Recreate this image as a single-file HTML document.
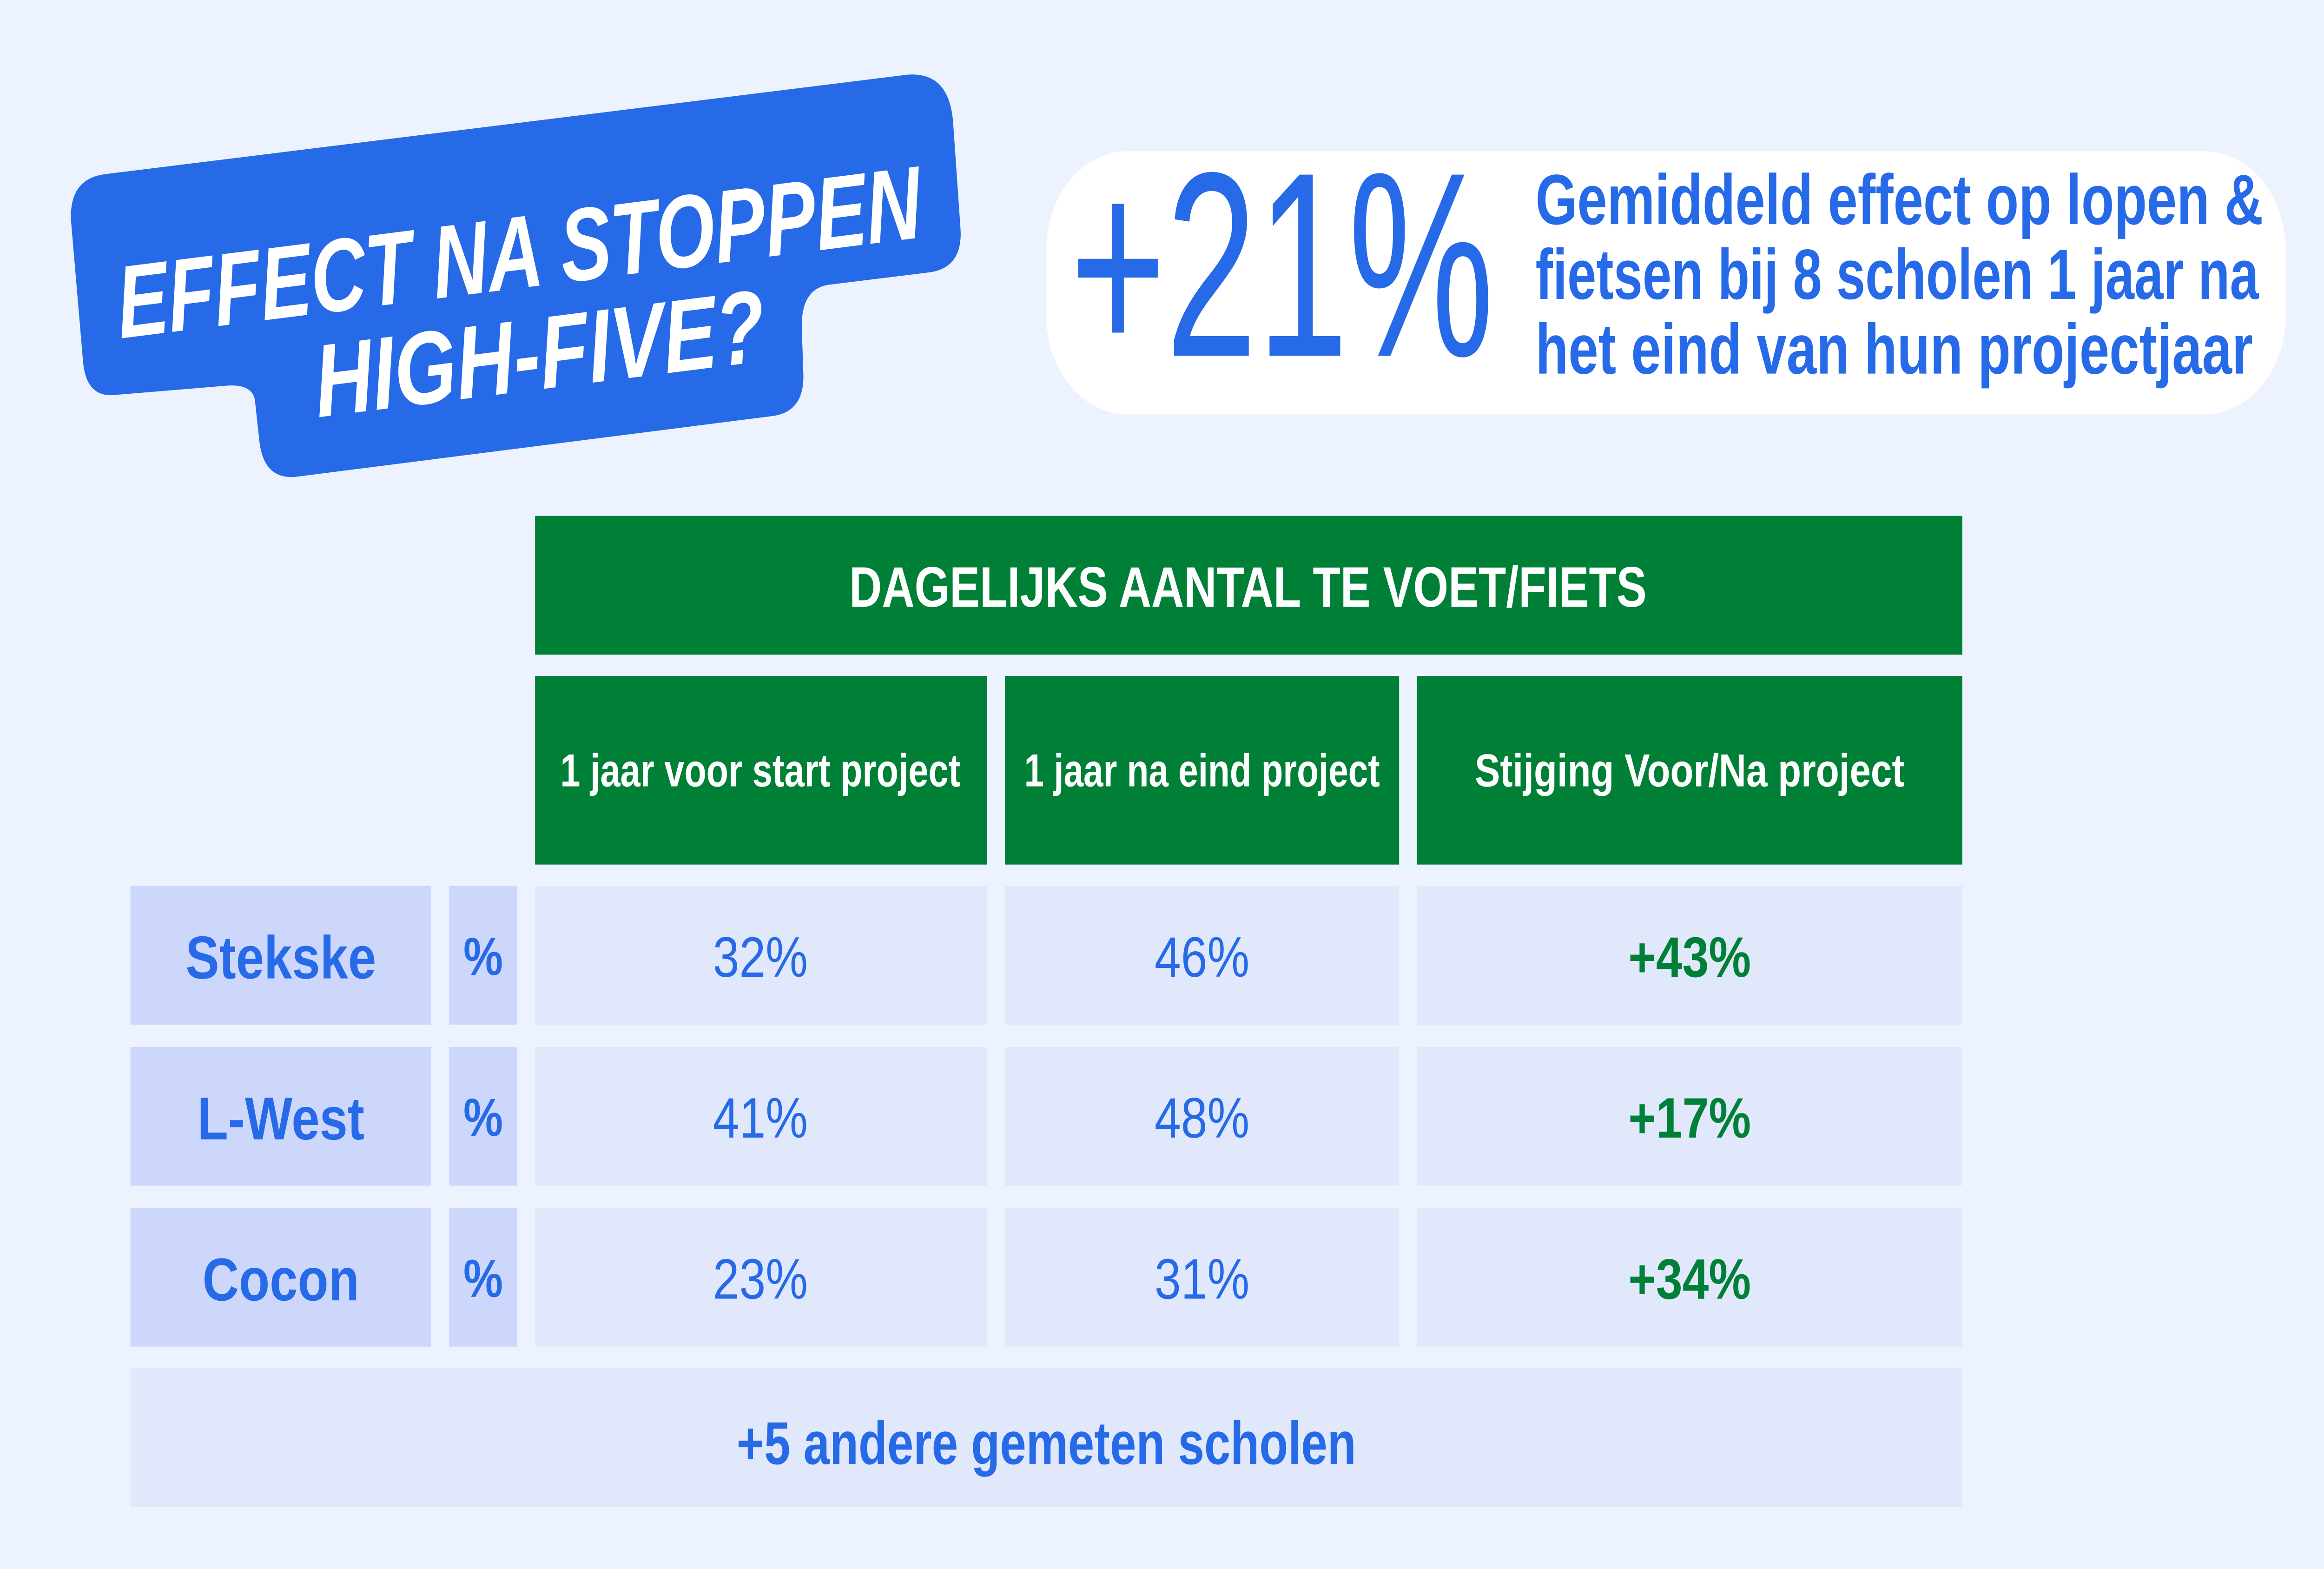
<!DOCTYPE html>
<html><head><meta charset="utf-8">
<style>
html,body{margin:0;padding:0;background:#EDF3FE;width:100%;height:100%;overflow:hidden;}
svg{display:block;position:absolute;left:0;top:0;width:100vw;height:100vh;}
text{font-family:"Liberation Sans",sans-serif;}
</style></head>
<body>
<svg id="chart" viewBox="0 0 1568 882" preserveAspectRatio="none" xmlns="http://www.w3.org/2000/svg">
<rect x="0" y="0" width="1568" height="882" fill="#EDF3FE"/>
<g>
<path d="M70,98 L612,42 Q640,40 643,68 L648,128 Q650,150 628,153 L560,160 Q540,162 541,185 L542,210 Q543,232 520,234 L200,268 Q178,270 175,248 L172,225 Q170,215 150,217 L78,222 Q58,224 56,203 L48,125 Q46,101 70,98 Z" fill="#266AE8"/>
<g transform="rotate(-6 350 160)" fill="#fff" font-weight="bold" font-style="italic" font-size="58" text-anchor="middle">
<text x="352" y="162" textLength="545" lengthAdjust="spacingAndGlyphs">EFFECT NA STOPPEN</text>
<text x="360" y="220" textLength="305" lengthAdjust="spacingAndGlyphs">HIGH-FIVE?</text>
</g>
</g>
<g>
<rect x="706" y="85" width="836" height="148" rx="55" fill="#fff"/>
<text x="722" y="200" font-size="148" fill="#266AE8" textLength="286" lengthAdjust="spacingAndGlyphs">+21%</text>
<g fill="#266AE8" font-size="40" font-weight="bold">
<text x="1036" y="126" textLength="491" lengthAdjust="spacingAndGlyphs">Gemiddeld effect op lopen &amp;</text>
<text x="1036" y="168" textLength="488" lengthAdjust="spacingAndGlyphs">fietsen bij 8 scholen 1 jaar na</text>
<text x="1036" y="210" textLength="484" lengthAdjust="spacingAndGlyphs">het eind van hun projectjaar</text>
</g>
</g>
<g>
<rect x="361" y="290" width="963" height="78" fill="#008037"/>
<text x="842" y="341" font-size="32" font-weight="bold" fill="#fff" text-anchor="middle" textLength="538" lengthAdjust="spacingAndGlyphs">DAGELIJKS AANTAL TE VOET/FIETS</text>
<rect x="361" y="380" width="305" height="106" fill="#008037"/>
<rect x="678" y="380" width="266" height="106" fill="#008037"/>
<rect x="956" y="380" width="368" height="106" fill="#008037"/>
<g font-size="26" font-weight="bold" fill="#fff" text-anchor="middle">
<text x="513" y="442" textLength="270" lengthAdjust="spacingAndGlyphs">1 jaar voor start project</text>
<text x="811" y="442" textLength="240" lengthAdjust="spacingAndGlyphs">1 jaar na eind project</text>
<text x="1140" y="442" textLength="290" lengthAdjust="spacingAndGlyphs">Stijging Voor/Na project</text>
</g>
</g>
<g id="rows"></g>
<g>
<rect x="88" y="769" width="1236" height="78" fill="#E1E8FC"/>
<text x="706" y="823" font-size="34" font-weight="bold" fill="#266AE8" text-anchor="middle" textLength="418" lengthAdjust="spacingAndGlyphs">+5 andere gemeten scholen</text>
</g>
</svg>
<script>
const schools = ["Stekske", "L-West", "Cocon"];
const beforeVals = [32, 41, 23];
const afterVals = [46, 48, 31];
const increaseVals = [43, 17, 34];

const NS = "http://www.w3.org/2000/svg";
const g = document.getElementById("rows");
function mk(tag, attrs, txt){
  const e = document.createElementNS(NS, tag);
  for (const k in attrs) e.setAttribute(k, attrs[k]);
  if (txt !== undefined) e.textContent = txt;
  g.appendChild(e);
  return e;
}
const rowY0 = 498, rowStep = 90.5, rowH = 78;
schools.forEach((name, i) => {
  const y = rowY0 + i * rowStep;
  const cy = y + 52;
  let e;
  e = mk("rect", {x:88, y:y, width:203, height:rowH, fill:"#CDD7FC"});
  
  
  e = mk("text", {x:189.5, y:cy, "font-size":34, "font-weight":"bold", fill:"#266AE8", "text-anchor":"middle"}, name);
  
  
  e = mk("rect", {x:303, y:y, width:46, height:rowH, fill:"#CDD7FC"});
  
  
  e = mk("text", {x:326, y:cy-2, "font-size":30, "font-weight":"bold", fill:"#266AE8", "text-anchor":"middle"}, "%");
  
  
  e = mk("rect", {x:361, y:y, width:305, height:rowH, fill:"#E1E8FC"});
  
  
  e = mk("text", {x:513, y:cy-1, "font-size":32, fill:"#266AE8", "text-anchor":"middle"}, beforeVals[i] + "%");
  
  
  e = mk("rect", {x:678, y:y, width:266, height:rowH, fill:"#E1E8FC"});
  
  
  e = mk("text", {x:811, y:cy-1, "font-size":32, fill:"#266AE8", "text-anchor":"middle"}, afterVals[i] + "%");
  
  
  e = mk("rect", {x:956, y:y, width:368, height:rowH, fill:"#E1E8FC"});
  
  
  e = mk("text", {x:1140, y:cy-1, "font-size":32, "font-weight":"bold", fill:"#008037", "text-anchor":"middle"}, "+" + increaseVals[i] + "%");
  
  
});
</script>
</body></html>
